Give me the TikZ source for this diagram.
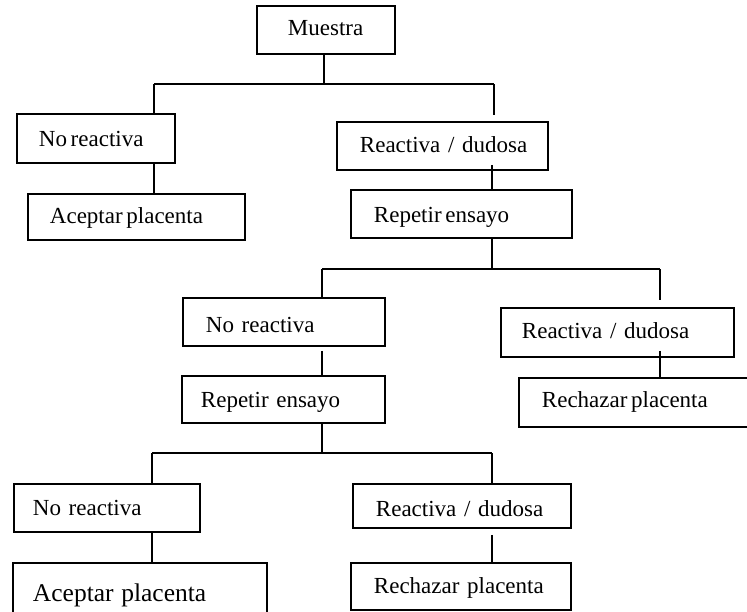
\documentclass[tikz,border=0pt]{standalone}
\usepackage{fontspec}
\setmainfont{Liberation Serif}
\newcommand\nsp{\hspace{0.16em}}
\begin{document}
\begin{tikzpicture}[x=1pt,y=-1pt,
  box/.style={draw=black, line width=1.9pt, rectangle, align=left, font=\fontsize{23}{26}\selectfont},
  conn/.style={draw=black, line width=1.9pt}]
\useasboundingbox (0,0) rectangle (747,611);
% name, x1, y1, x2, y2, text-x, baseline-y, text
\newcommand\bx[8]{%
  \pgfmathsetmacro\bW{#4-#2}\pgfmathsetmacro\bH{#5-#3}%
  \pgfmathsetmacro\bpx{#6-#2}\pgfmathsetmacro\btw{\bW-2*\bpx}%
  \pgfmathsetmacro\bth{2*(#7-#3)-\bH}%
  \node[box, anchor=north west, minimum width=\bW pt, minimum height=\bH pt,
        inner xsep=\bpx pt, inner ysep=0pt, text width=\btw pt,
        text height=\bth pt, text depth=0pt] (#1) at (#2,#3) {\mbox{#8}};}
\bx{m}{256}{5}{394}{53}{287}{35}{Muestra}
\bx{nra}{16}{113}{174}{162}{38}{146}{No\nsp reactiva}
\bx{aa}{27}{193}{244}{239}{49}{223}{Aceptar\nsp placenta}
\bx{ra}{336}{121}{547}{169}{359}{152}{Reactiva / dudosa}
\bx{pa}{350}{189}{571}{237}{373}{222}{Repetir\nsp ensayo}
\bx{nrb}{182}{297}{384}{345}{205}{332}{No reactiva}
\bx{pb}{181}{375}{384}{422}{200}{407}{Repetir ensayo}
\bx{rb}{500}{307}{733}{356}{521}{338}{Reactiva / dudosa}
\bx{zb}{518}{377}{770}{426}{541}{407}{Rechazar\nsp placenta}
\bx{nrc}{13}{483}{199}{531}{32}{515}{No reactiva}
\bx{ac}{12}{562}{266}{640}{32}{597}{\fontsize{25.5}{28}\selectfont Aceptar placenta}
\bx{rc}{352}{483}{570}{527}{375}{516}{Reactiva / dudosa}
\bx{zc}{350}{562}{570}{609}{373}{593}{Rechazar placenta}
% junction coordinates
\coordinate (j0) at (324,84);
\coordinate (j0l) at (154,84);
\coordinate (j0r) at (494,84);
\coordinate (j1) at (492,269);
\coordinate (j1l) at (322,269);
\coordinate (j1r) at (660,269);
\coordinate (j2) at (322,453);
\coordinate (j2l) at (152,453);
\coordinate (j2r) at (492,453);
% level 0
\draw[conn] (m.south -| j0) -- (j0);
\draw[conn] (j0l) -- (j0r);
\draw[conn] (j0l) -- (nra.north -| j0l);
\draw[conn] (j0r) -- ([yshift=6pt]ra.north -| j0r);
\draw[conn] (nra.south -| j0l) -- (aa.north -| j0l);
\draw[conn] ([yshift=6pt]ra.south -| j1) -- (pa.north -| j1);
% level 1
\draw[conn] (pa.south -| j1) -- (j1);
\draw[conn] (j1l) -- (j1r);
\draw[conn] (j1l) -- (nrb.north -| j1l);
\draw[conn] (j1r) -- ([yshift=7pt]rb.north -| j1r);
\draw[conn] ([yshift=-4pt]nrb.south -| j1l) -- (pb.north -| j1l);
\draw[conn] ([yshift=7pt]rb.south -| j1r) -- (zb.north -| j1r);
% level 2
\draw[conn] (pb.south -| j2) -- (j2);
\draw[conn] (j2l) -- (j2r);
\draw[conn] (j2l) -- (nrc.north -| j2l);
\draw[conn] (j2r) -- (rc.north -| j2r);
\draw[conn] (nrc.south -| j2l) -- (ac.north -| j2l);
\draw[conn] ([yshift=-6pt]rc.south -| j2r) -- (zc.north -| j2r);
\end{tikzpicture}
\end{document}
